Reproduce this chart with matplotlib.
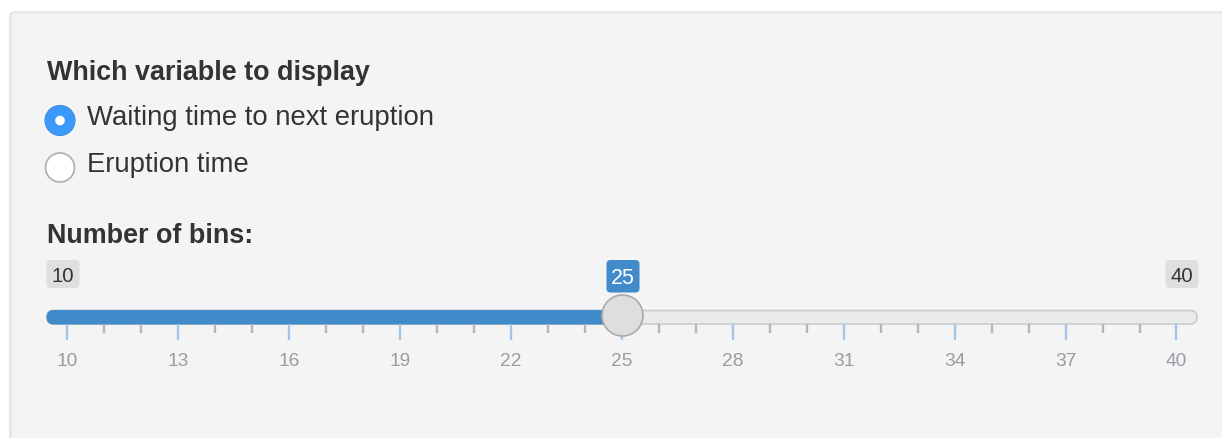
import matplotlib
matplotlib.use("Agg")
import matplotlib.pyplot as plt
from matplotlib.patches import FancyBboxPatch, Circle
import numpy as np

# ---- data ----
radio_title = "Which variable to display"
radio_options = ["Waiting time to next eruption", "Eruption time"]
radio_selected = 0
slider_title = "Number of bins:"
slider_min = 10
slider_max = 40
slider_value = 25
slider_major_step = 3
slider_minor_step = 1

W, H = 1222, 438
fig = plt.figure(figsize=(W / 100, H / 100), dpi=100)
fig.patch.set_facecolor("white")
plt.rcParams['font.family'] = ['Liberation Sans', 'DejaVu Sans']

# main pixel-space axes
ax = fig.add_axes([0, 0, 1, 1])
ax.set_xlim(0, W)
ax.set_ylim(H, 0)
ax.axis("off")

TEXT = "#333333"
BLUE = "#428bca"

# panel
panel = FancyBboxPatch((10, 12), W + 40, H + 40, boxstyle="round,pad=0,rounding_size=5",
                       fc="#f4f4f4", ec="#e0e0e0", lw=1.2, zorder=0)
ax.add_patch(panel)
ax.plot([14, W], [13.4, 13.4], color="#ebebeb", lw=1.2, zorder=1)
ax.plot([11.2, 11.2], [17, H], color="#ebebeb", lw=1.0, zorder=1)

# radio group
FSB = 19.4
FSR = 19.8
ax.text(47, 80, radio_title, fontsize=FSB, fontweight="bold", color=TEXT, va="baseline", ha="left")
radio_y = [125, 172]
for i, (opt, by) in enumerate(zip(radio_options, radio_y)):
    cy = by - 4.5
    if i == radio_selected:
        ax.add_patch(Circle((60, cy), 15, fc="#3b99fc", ec="#3a8ee8", lw=0.8, zorder=3))
        ax.add_patch(Circle((60, cy), 4.8, fc="white", ec="none", zorder=4))
    else:
        ax.add_patch(Circle((60, cy), 14.5, fc="white", ec="#b3b3b3", lw=1.3, zorder=3))
    ax.text(87, by, opt, fontsize=FSR, color=TEXT, va="baseline", ha="left")

# slider title
ax.text(47, 243, slider_title, fontsize=FSB, fontweight="bold", color=TEXT, va="baseline", ha="left")

# slider axes: x in value units, y in pixels
track_x0, track_x1 = 47, 1197
handle_r = 20.5
sax = fig.add_axes([track_x0 / W, 0, (track_x1 - track_x0) / W, 1])
sax.set_ylim(H, 0)
px_per_unit = (track_x1 - track_x0 - 2 * handle_r) / (slider_max - slider_min)
pad_units = handle_r / px_per_unit
sax.set_xlim(slider_min - pad_units, slider_max + pad_units)
sax.axis("off")
sax.patch.set_alpha(0)

def to_px(v):
    return ax.transData.inverted().transform(sax.transData.transform((v, 0)))[0]

track_y0, track_y1 = 310.5, 324
# grey track
ax.add_patch(FancyBboxPatch((to_px(slider_min - pad_units), track_y0),
                            to_px(slider_max + pad_units) - to_px(slider_min - pad_units),
                            track_y1 - track_y0,
                            boxstyle="round,pad=0,rounding_size=6.75",
                            fc="#ebebeb", ec="#cccccc", lw=1.2, zorder=2))
# blue fill
ax.add_patch(FancyBboxPatch((to_px(slider_min - pad_units), track_y0),
                            to_px(slider_value) - to_px(slider_min - pad_units),
                            track_y1 - track_y0,
                            boxstyle="round,pad=0,rounding_size=6.75",
                            fc=BLUE, ec=BLUE, lw=0.8, zorder=3))

# ticks
minor_vals = np.arange(slider_min, slider_max + 1, slider_minor_step)
major_vals = np.arange(slider_min, slider_max + 1, slider_major_step)
minor_only = [v for v in minor_vals if v not in set(major_vals)]
sax.vlines(minor_only, track_y1, 332.5, color="#b5b5b5", lw=1.7, zorder=2)
sax.vlines(major_vals, track_y1, 340, color="#a4c6e6", lw=1.7, zorder=2)
for v in major_vals:
    sax.text(v, 365.5, str(v), fontsize=13.8, color="#999ca3", ha="center", va="baseline")

# handle
sax.scatter([slider_value], [314.5], s=(2 * handle_r * 0.72) ** 2, c="#dedede",
            edgecolors="#aaaaaa", linewidths=1.2, zorder=6, clip_on=False)

# value labels
def label_box(xc, text, fc, tc, y0, y1, base, fs):
    w = 33
    ax.add_patch(FancyBboxPatch((xc - w / 2, y0), w, y1 - y0,
                                boxstyle="round,pad=0,rounding_size=4",
                                fc=fc, ec="none", zorder=5))
    ax.text(xc, base, text, fontsize=fs, color=tc, ha="center", va="baseline", zorder=6)

label_box(to_px(slider_min - pad_units) + 16, str(slider_min), "#dfdfdf", TEXT, 260, 288, 281.5, 14.6)
label_box(to_px(slider_max + pad_units) - 15, str(slider_max), "#dfdfdf", TEXT, 260, 288, 281.5, 14.6)
label_box(to_px(slider_value) + 1, str(slider_value), BLUE, "white", 260, 292.5, 284, 15.5)

fig.savefig("out.png", dpi=100, facecolor="white")
